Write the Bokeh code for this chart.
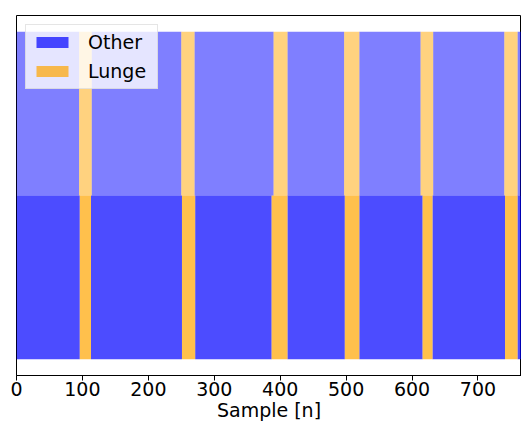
from bokeh.plotting import figure
from bokeh.models import ColumnDataSource, Range1d, Legend, LegendItem
from bokeh.embed import file_html
from bokeh.resources import INLINE

# ---- data ----
n_samples = 766
labels = ["Other", "Lunge"]
# top row (lighter)
top_lunge_start = [95, 250, 390, 497, 613, 740]
top_lunge_end = [114, 270, 411, 520, 632, 760]
# bottom row
bottom_lunge_start = [96, 251, 387, 498, 616, 741]
bottom_lunge_end = [113, 271, 411, 520, 631, 760]
x_ticks = [0, 100, 200, 300, 400, 500, 600, 700]
row_bottom = [0, 1]
row_top = [1, 2]
blue = "#0000ff"
orange = "#ffa500"


def gaps(starts, ends, total):
    return [0] + list(ends), list(starts) + [total]


p = figure(width=521, height=423, output_backend="svg", toolbar_location=None,
           x_range=Range1d(0, n_samples), y_range=Range1d(-0.1, 2.1),
           min_border_left=16, min_border_right=0, min_border_top=15,
           min_border_bottom=0)

renderers = {}
for row, (ls, le, alpha) in enumerate([(bottom_lunge_start, bottom_lunge_end, 0.7),
                                       (top_lunge_start, top_lunge_end, 0.5)]):
    os_, oe = gaps(ls, le, n_samples)
    src_o = ColumnDataSource(dict(left=os_, right=oe,
                                  bottom=[row_bottom[row]] * len(os_),
                                  top=[row_top[row]] * len(os_)))
    src_l = ColumnDataSource(dict(left=ls, right=le,
                                  bottom=[row_bottom[row]] * len(ls),
                                  top=[row_top[row]] * len(ls)))
    ro = p.quad(left="left", right="right", bottom="bottom", top="top", source=src_o,
                fill_color=blue, fill_alpha=alpha, line_color=None)
    rl = p.quad(left="left", right="right", bottom="bottom", top="top", source=src_l,
                fill_color=orange, fill_alpha=alpha, line_color=None)
    if row == 0:
        renderers["Other"] = ro
        renderers["Lunge"] = rl

legend = Legend(items=[LegendItem(label=l, renderers=[renderers[l]]) for l in labels],
                location="top_left")
legend.label_text_font = "DejaVu Sans"
legend.label_text_font_size = "19px"
legend.label_text_color = "black"
legend.glyph_width = 40
legend.glyph_height = 14
legend.label_height = 21
legend.label_width = 63
legend.label_standoff = 16
legend.spacing = 7
legend.padding = 6
legend.margin = 9
legend.background_fill_color = "white"
legend.background_fill_alpha = 0.8
legend.border_line_color = "#cccccc"
legend.border_line_width = 1
p.add_layout(legend)

p.xgrid.visible = False
p.ygrid.visible = False
p.yaxis.visible = False
p.outline_line_color = "black"
p.outline_line_width = 1
p.background_fill_color = "white"
p.border_fill_color = "white"

ax = p.xaxis[0]
ax.ticker = x_ticks
ax.axis_label = "Sample [n]"
ax.axis_label_text_font = "DejaVu Sans"
ax.axis_label_text_font_size = "19px"
ax.axis_label_text_font_style = "normal"
ax.axis_label_text_color = "black"
ax.axis_label_standoff = 0
ax.major_label_text_font = "DejaVu Sans"
ax.major_label_text_font_size = "19px"
ax.major_label_text_color = "black"
ax.major_label_standoff = 1
ax.major_tick_out = 5
ax.major_tick_in = 0
ax.minor_tick_line_color = None
ax.axis_line_color = "black"
ax.major_tick_line_color = "black"

open("out.html", "w").write(file_html(p, INLINE))
